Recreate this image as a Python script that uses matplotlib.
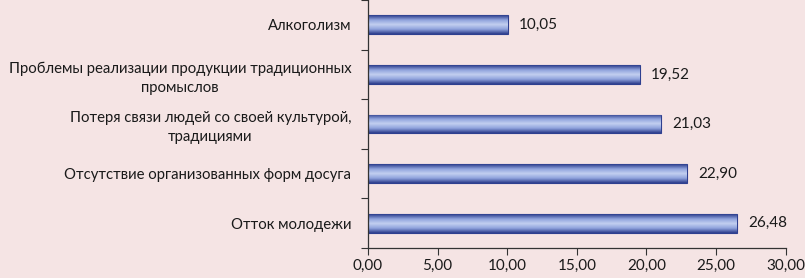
import matplotlib.pyplot as plt
import numpy as np
from matplotlib.colors import LinearSegmentedColormap

plt.rcParams['font.family'] = ['Lato', 'DejaVu Sans']

categories = [
    'Отток молодежи',
    'Отсутствие организованных форм досуга',
    'Потеря связи людей со своей культурой,\nтрадициями',
    'Проблемы реализации продукции традиционных\nпромыслов',
    'Алкоголизм',
]
values = [26.48, 22.90, 21.03, 19.52, 10.05]
xticks = [0, 5, 10, 15, 20, 25, 30]

bg = '#f5e4e4'
fig = plt.figure(figsize=(8.05, 2.78), dpi=100, facecolor=bg)
ax = fig.add_axes([0.457, 0.108, 0.519, 0.892], facecolor=bg)

y = np.arange(len(values))
bars = ax.barh(y, values, height=0.38, color='#6f82c8', edgecolor='#2e3f8f', linewidth=0.8, zorder=2)

# cylinder-like shading inside each bar
cmap = LinearSegmentedColormap.from_list('cyl', ['#2c3d8c', '#8fa2dc', '#c3cff0', '#8fa2dc', '#2c3d8c'])
grad = np.linspace(0, 1, 64).reshape(-1, 1)
for b in bars:
    x0, y0 = b.get_x(), b.get_y()
    im = ax.imshow(grad, cmap=cmap, aspect='auto', extent=[x0, x0 + b.get_width(), y0, y0 + b.get_height()],
                   origin='lower', zorder=2.5)
    im.set_clip_path(b)

for yi, v in zip(y, values):
    ax.text(v + 0.8, yi, f'{v:.2f}'.replace('.', ','), va='center', ha='left', fontsize=11, color='#1a1a1a')

ax.set_xlim(0, 30)
ax.set_ylim(-0.5, len(values) - 0.5)
ax.set_xticks(xticks)
ax.set_xticklabels([f'{t:.2f}'.replace('.', ',') for t in xticks], fontsize=11, color='#1a1a1a')
ax.set_yticks(y)
ax.set_yticklabels(categories, fontsize=10.7, color='#1a1a1a', multialignment='center', linespacing=1.45)
ax.set_yticks(np.arange(-0.5, len(values), 1), minor=True)
ax.tick_params(axis='y', which='major', length=0, pad=12)
ax.tick_params(axis='y', which='minor', length=5, width=0.8, color='#333333')
ax.tick_params(axis='x', length=5, width=0.8, color='#333333', pad=3)

for s in ['top', 'right']:
    ax.spines[s].set_visible(False)
for s in ['left', 'bottom']:
    ax.spines[s].set_color('#333333')
    ax.spines[s].set_linewidth(0.9)

fig.savefig('out.png', dpi=100, facecolor=bg)
